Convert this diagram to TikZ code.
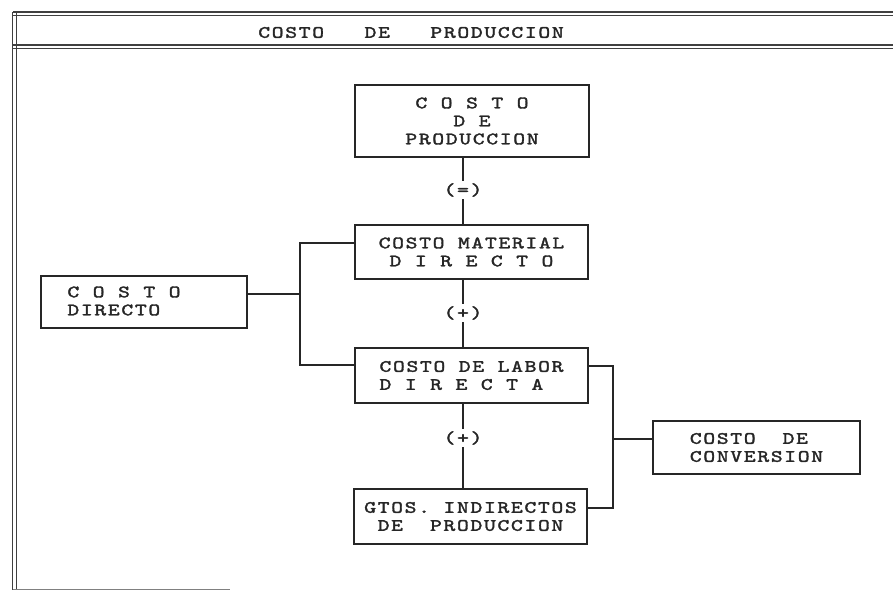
\documentclass[tikz,border=0pt]{standalone}
\usepackage{fontspec}
\newfontfamily\cfont{lmmono10-regular.otf}[FakeStretch=1.3, FakeBold=2, LetterSpace=9.6]
\newcommand\cfsel{\cfont\fontsize{13}{13.5}\selectfont\spaceskip 10.125pt\relax}
\begin{document}
\begin{tikzpicture}[x=0.75pt,y=-0.75pt,
  ink/.style={draw=black!85, line width=1.1pt},
  boxnode/.style={ink, rectangle, inner sep=0pt, outer sep=0pt},
  txt/.style={font=\cfsel, text=black!85, inner sep=0pt},
  oplabel/.style={txt, fill=white, inner sep=1.5pt}]
\useasboundingbox (0,0) rectangle (893,591);
% frame
\draw[black!75, line width=1pt] (13,12) -- (893,12);
\draw[black!75, line width=1pt] (13,15.5) -- (893,15.5);
\draw[black!75, line width=1pt] (13,45) -- (893,45);
\draw[black!75, line width=1pt] (13,48.5) -- (893,48.5);
\draw[black!75, line width=1pt] (12.5,12) -- (12.5,590);
\draw[black!75, line width=1pt] (16.5,12) -- (16.5,590);
\draw[black!50, line width=0.8pt] (12.5,589.5) -- (230,589.5);
\node[txt] (title) at (411,32.5) {COSTO\ \ \ DE\ \ \ PRODUCCION};
% boxes
\node[boxnode, minimum width=175.5pt, minimum height=54pt, txt, align=center] (b1) at (472,121) {C O S T O\\D E\\PRODUCCION};
\node[boxnode, minimum width=174.75pt, minimum height=40.5pt, txt, align=center] (b2) at (471.5,252) {COSTO MATERIAL\\D I R E C T O};
\node[boxnode, minimum width=174.75pt, minimum height=41.25pt, txt, align=left] (b4) at (471.5,375.5) {COSTO DE LABOR\\D I R E C T A};
\node[boxnode, minimum width=174.75pt, minimum height=41.25pt, txt, align=center] (b5) at (470.5,516.5) {GTOS. INDIRECTOS\\DE\ \ PRODUCCION};
\node[boxnode, minimum width=154.5pt, minimum height=39pt] (cd) at (144,302) {};
\node[txt, align=left] (cdt) at (124,301) {C O S T O\\DIRECTO};
\node[boxnode, minimum width=155.25pt, minimum height=39.75pt, txt, align=left] (b6) at (756.5,447.5) {COSTO\ \ DE\\CONVERSION};
% junction coordinates
\coordinate (cx) at (463,0);
\coordinate (l1) at (300,243);
\coordinate (lj) at (300,294);
\coordinate (l2) at (300,365);
\coordinate (r1) at (613,366);
\coordinate (rj) at (613,439);
\coordinate (r2) at (613,508);
% vertical chain
\draw[ink] (b1.south -| cx) -- (b2.north -| cx);
\draw[ink] (b2.south -| cx) -- (b4.north -| cx);
\draw[ink] (b4.south -| cx) -- (b5.north -| cx);
\node[oplabel] (op1) at (463,190) {(=)};
\node[oplabel] (op2) at (463,313) {(+)};
\node[oplabel] (op3) at (463,438) {(+)};
% left bracket
\draw[ink] (b2.west |- l1) -- (l1) -- (l2) -- (b4.west |- l2);
\draw[ink] (cd.east |- lj) -- (lj);
% right bracket
\draw[ink] (b4.east |- r1) -- (r1) -- (r2) -- (b5.east |- r2);
\draw[ink] (rj) -- (b6.west |- rj);
\end{tikzpicture}
\end{document}
